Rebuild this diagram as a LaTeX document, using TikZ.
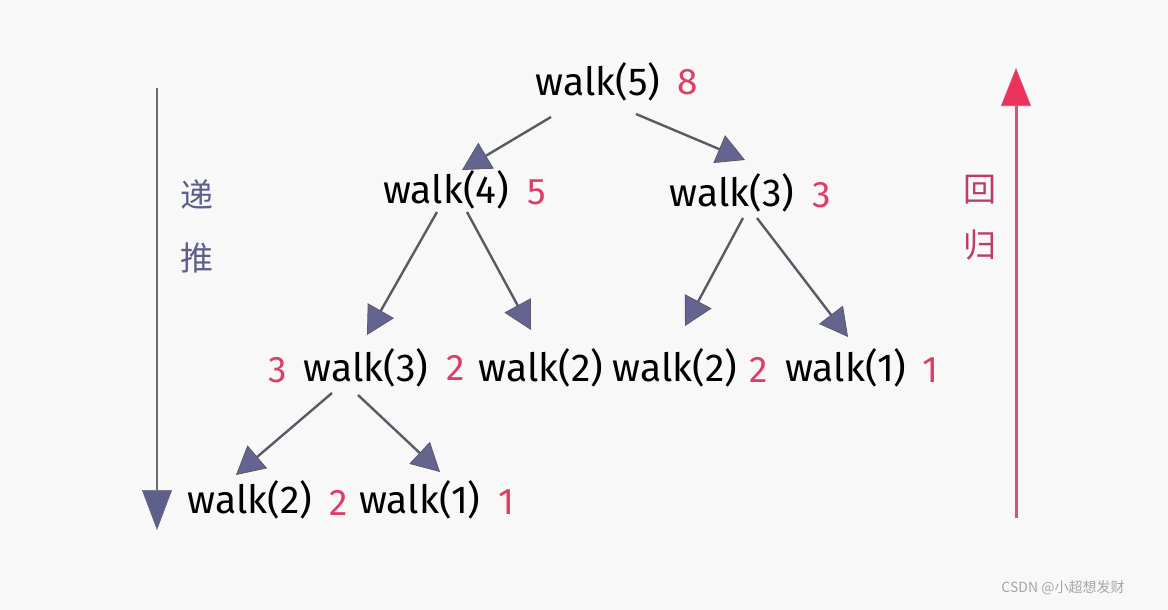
\documentclass[tikz,border=0pt]{standalone}
\usepackage{fontspec}
\setmainfont{Fira Sans}
\newfontfamily\cjk{Noto Sans CJK SC}
\usetikzlibrary{arrows.meta,calc}
\definecolor{bgc}{RGB}{248,248,248}
\definecolor{numred}{RGB}{222,62,102}
\definecolor{linegray}{RGB}{90,90,100}
\definecolor{headpur}{RGB}{100,100,145}
\definecolor{downpur}{RGB}{95,95,140}
\definecolor{upred}{RGB}{235,50,90}
\definecolor{upline}{RGB}{220,80,120}
\definecolor{backpink}{RGB}{190,60,105}
\tikzset{
  lbl/.style={inner sep=0pt, font=\fontsize{39}{40}\selectfont, text=black},
  num/.style={inner sep=0pt, font=\fontsize{37}{40}\selectfont, text=numred},
  arr/.style={draw=linegray, line width=2.4pt,
    -{Triangle[length=28pt,width=30pt,fill=headpur,line width=0.8pt]}},
  side/.style={inner sep=0pt, font=\cjk\fontsize{33}{35}\selectfont},
}
\begin{document}
\begin{tikzpicture}[x=1pt,y=-1pt]
\fill[bgc] (0,0) rectangle (1168,610);
\useasboundingbox (0,0) rectangle (1168,610);
% tree nodes
\node[lbl] (w5) at (598,82) {walk(5)};
\node[num] (n5) at (688,82) {8};
\node[lbl] (w4) at (446,190) {walk(4)};
\node[num] (n4) at (537,192) {5};
\node[lbl] (w3a) at (732,193) {walk(3)};
\node[num] (n3a) at (822,195) {3};
\node[num] (n3b) at (278,370) {3};
\node[lbl] (w3b) at (366,368) {walk(3)};
\node[num] (n2c) at (456,368) {2};
\node[lbl] (w2c) at (541,368) {walk(2)};
\node[lbl] (w2d) at (675,368) {walk(2)};
\node[num] (n2d) at (759,370) {2};
\node[lbl] (w1e) at (846,368) {walk(1)};
\node[num] (n1e) at (931,370) {1};
\node[lbl] (w2f) at (250,500) {walk(2)};
\node[num] (n2f) at (339,503) {2};
\node[lbl] (w1g) at (420,500) {walk(1)};
\node[num] (n1g) at (507,502) {1};
% tree arrows
\draw[arr] ($(w5)+(-47,35)$) -- ($(w4)+(16,-20)$);
\draw[arr] ($(w5)+(38,32)$) -- ($(w3a)+(13,-33)$);
\draw[arr] ($(w4)+(-9,22)$) -- ($(w3b)+(1,-33)$);
\draw[arr] ($(w4)+(21,22)$) -- ($(w2c)+(-10,-38)$);
\draw[arr] ($(w3a)+(11,25)$) -- ($(w2d)+(10,-42)$);
\draw[arr] ($(w3a)+(25,25)$) -- ($(w1e)+(2,-31)$);
\draw[arr] ($(w3b)+(-34,25)$) -- ($(w2f)+(-14,-25)$);
\draw[arr] ($(w3b)+(-8,27)$) -- ($(w1g)+(20,-28)$);
% side arrows
\coordinate (dtop) at (157,88);
\coordinate (dbot) at (157,530);
\draw[draw=linegray!90, line width=2.6pt,
  -{Triangle[length=40pt,width=30pt,fill=downpur,line width=0.6pt]}] (dtop) -- (dbot);
\node[side, text=downpur] (di) at (197,195) {递};
\node[side, text=downpur] (tui) at (197,258) {推};
\coordinate (ubot) at (1016,518);
\coordinate (utop) at (1016,68);
\draw[draw=upline, line width=3pt,
  -{Triangle[length=38pt,width=30pt,fill=upred,line width=0.6pt]}] (ubot) -- (utop);
\node[side, text=backpink] (hui) at (980,190) {回};
\node[side, text=backpink] (gui) at (980,245) {归};
% watermark
\node[inner sep=0pt, text=black!35, font=\cjk\fontsize{14}{16}\selectfont] (wm) at (1063,588) {CSDN @小超想发财};
\end{tikzpicture}
\end{document}
